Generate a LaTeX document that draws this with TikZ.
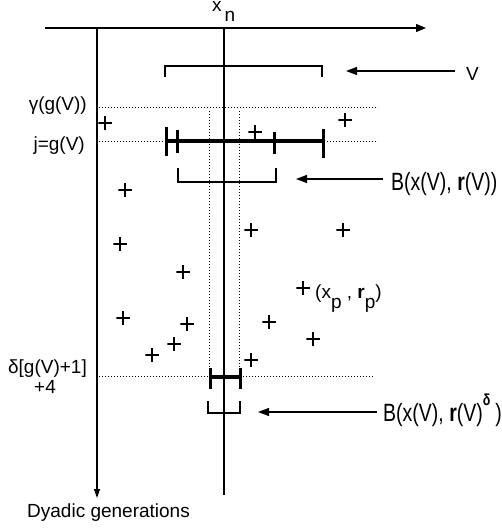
\documentclass[tikz,border=0pt]{standalone}
\usepackage{fontspec}
\setmainfont{Liberation Sans}
\newfontfamily\narrowfont{Liberation Sans}[FakeStretch=0.78]
\usetikzlibrary{arrows.meta}
\begin{document}
\begin{tikzpicture}[x=1pt,y=-1pt,
  axis/.style={line width=1.3pt},
  dotline/.style={line width=1pt, dash pattern=on 1.3pt off 1.7pt},
  thickseg/.style={line width=3.3pt},
  tickmark/.style={line width=3pt},
  thinbr/.style={line width=1.2pt},
  pointer/.style={line width=1.3pt,-{Triangle[length=11pt,width=8pt]}},
  lbl/.style={inner sep=0pt,font=\fontsize{19}{22}\selectfont},
  blbl/.style={inner sep=0pt,font=\narrowfont\fontsize{25}{28}\selectfont},
  plusm/.style={minimum size=13.5pt,inner sep=0pt,
    path picture={\draw[line width=1.5pt]
      (path picture bounding box.north) -- (path picture bounding box.south)
      (path picture bounding box.west) -- (path picture bounding box.east);}}]
\useasboundingbox (0,0) rectangle (501,529);

% axes
\coordinate (axL) at (45,28);
\coordinate (axR) at (426,28);
\draw[axis,-{Triangle[length=10pt,width=8pt]}] (axL) -- (axR);
\coordinate (gTop) at (97,28);
\coordinate (gBot) at (97,498);
\draw[axis,-{Triangle[length=9pt,width=6pt]}] (gTop) -- (gBot);
\coordinate (cTop) at (224,28);
\coordinate (cBot) at (224,495);
\draw[line width=1.2pt] (cTop) -- (cBot);

% labels
\node[lbl,anchor=base west] (xn) at (212,12) {x\hspace{3pt}\raisebox{-10pt}{n}};
\node[lbl,anchor=base west] (vlab) at (466,81) {V};
\node[lbl,anchor=base east] (gam) at (87,111) {γ(g(V))};
\node[lbl,anchor=base east] (jlab) at (85,151) {j=g(V)};
\node[lbl,anchor=base east] (dlab) at (87,373) {δ[g(V)+1]};
\node[lbl,anchor=base] (four) at (45,393) {+4};
\node[lbl,anchor=base west] (dyad) at (27,517) {Dyadic generations};
\node[blbl,anchor=base west] (b1) at (391,191) {B(x(V), \textbf{r}(V))};
\node[blbl,anchor=base west] (b2) at (383,421) {B(x(V), \textbf{r}(V)\raisebox{16pt}{\fontsize{16}{16}\selectfont\textbf{δ}}\hspace*{5pt})};

% dotted levels
\coordinate (g1) at (99,108); \coordinate (g2) at (378,108);
\draw[dotline] (g1) -- (g2);
\coordinate (j1) at (99,142); \coordinate (j2) at (378,142);
\draw[dotline] (j1) -- (j2);
\coordinate (d1) at (99,376); \coordinate (d2) at (373,376);
\draw[dotline] (d1) -- (d2);
\coordinate (v1t) at (209,111); \coordinate (v1b) at (209,376);
\draw[dotline] (v1t) -- (v1b);
\coordinate (v2t) at (239,111); \coordinate (v2b) at (239,376);
\draw[dotline] (v2t) -- (v2b);

% V bracket
\draw[thinbr] (165,77) -- (165,66) -- (322,66) -- (322,77);
% top thick segment
\draw[thickseg] (166,141) -- (323,141);
\draw[tickmark] (166,127) -- (166,156);
\draw[tickmark] (177,130) -- (177,153);
\draw[tickmark] (274,132) -- (274,154);
\draw[tickmark] (323,129) -- (323,158);
% B bracket
\draw[thinbr] (178,168) -- (178,182) -- (276,182) -- (276,168);
% bottom thick segment
\draw[thickseg] (210,377) -- (240,377);
\draw[tickmark] (210,368) -- (210,389);
\draw[tickmark] (240,368) -- (240,389);
% bottom bracket
\draw[thinbr] (208,401) -- (208,413) -- (240,413) -- (240,401);

% pointers
\coordinate (pv1) at (455,71); \coordinate (pv2) at (346,71);
\draw[pointer] (pv1) -- (pv2);
\coordinate (pb1) at (383,179); \coordinate (pb2) at (296,179);
\draw[pointer] (pb1) -- (pb2);
\coordinate (pc1) at (377,412); \coordinate (pc2) at (258,412);
\draw[pointer] (pc1) -- (pc2);

% points
\node[plusm] (p1) at (105,123) {};
\node[plusm] (p2) at (255,132) {};
\node[plusm] (p3) at (345,120) {};
\node[plusm] (p4) at (125,190) {};
\node[plusm] (p5) at (120,244) {};
\node[plusm] (p6) at (251,230) {};
\node[plusm] (p7) at (343,230) {};
\node[plusm] (p8) at (183,272) {};
\node[plusm] (p9) at (303,288) {};
\node[plusm] (p10) at (123,318) {};
\node[plusm] (p11) at (187,324) {};
\node[plusm] (p12) at (269,322) {};
\node[plusm] (p13) at (174,344) {};
\node[plusm] (p14) at (313,339) {};
\node[plusm] (p15) at (152,355) {};
\node[plusm] (p16) at (251,360) {};
\node[lbl,anchor=base west] (xp) at (315,298) {(x\raisebox{-10pt}{p} , \textbf{r}\raisebox{-10pt}{p})};
\end{tikzpicture}
\end{document}
